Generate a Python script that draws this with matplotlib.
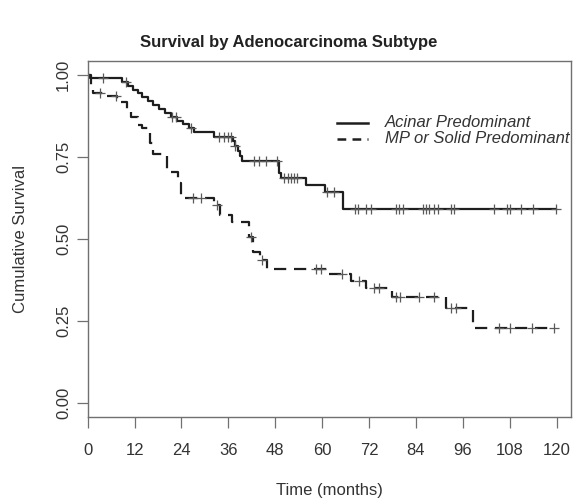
import matplotlib
matplotlib.use("Agg")
import matplotlib.pyplot as plt
import numpy as np

plt.rcParams["font.family"] = ["Liberation Sans", "DejaVu Sans"]

# Acinar predominant: event times (months) and survival after each drop
acinar_t = [0.5, 8.8, 10.2, 11.5, 12.8, 14.0, 15.5, 16.8, 18.2, 19.8, 21.2, 22.8,
            24.5, 26.0, 27.2, 32.4, 37.2, 37.8, 38.4, 38.9, 39.5, 49.0, 49.6,
            56.0, 60.8, 65.4]
acinar_s = [0.990, 0.978, 0.966, 0.954, 0.943, 0.931, 0.919, 0.907, 0.896, 0.884,
            0.872, 0.860, 0.849, 0.837, 0.825, 0.812, 0.797, 0.782, 0.767, 0.752,
            0.738, 0.700, 0.686, 0.665, 0.643, 0.591]
acinar_cens = [3.8, 9.8, 21.5, 22.7, 26.5, 33.7, 34.9, 35.8, 36.6, 37.8, 42.6,
               43.9, 45.7, 48.5, 50.3, 51.3, 52.0, 52.8, 53.6, 61.3, 63.1, 68.4,
               69.3, 71.3, 72.4, 78.8, 79.7, 80.7, 85.9, 86.5, 87.3, 88.6, 89.7,
               92.9, 93.7, 103.9, 107.3, 108.2, 111.0, 114.1, 119.9]

# MP or solid predominant
mp_t = [0.8, 1.3, 4.6, 7.6, 10.0, 11.2, 13.0, 13.8, 15.9, 16.8, 20.4, 23.0, 24.0,
        32.4, 33.8, 37.0, 41.4, 42.3, 44.0, 45.8, 61.8, 67.4, 71.2, 78.0, 91.6,
        98.6]
mp_s = [0.957, 0.944, 0.934, 0.916, 0.893, 0.870, 0.848, 0.838, 0.793, 0.758,
        0.704, 0.670, 0.625, 0.604, 0.573, 0.552, 0.506, 0.460, 0.436, 0.408,
        0.393, 0.372, 0.351, 0.323, 0.290, 0.229]
mp_cens = [3.1, 7.3, 27.0, 29.1, 33.0, 41.9, 44.7, 58.5, 59.7, 65.1, 69.4, 73.3,
           74.5, 78.9, 79.9, 84.8, 88.6, 92.9, 94.2, 105.2, 108.2, 113.6, 119.4]

x_ticks = [0, 12, 24, 36, 48, 60, 72, 84, 96, 108, 120]
y_ticks = [0.00, 0.25, 0.50, 0.75, 1.00]
labels = ["Acinar Predominant", "MP or Solid Predominant"]

LINE = "#1e1e1e"
AXC = "#707070"
TXT = "#333333"


def km_steps(t, s, t_end):
    x = np.r_[0.0, t, t_end]
    y = np.r_[1.0, s, s[-1]]
    return x, y


def draw_curve(ax, t, s, cens, **kw):
    x, y = km_steps(t, s, max(cens))
    ax.step(x, y, where="post", color=LINE, lw=1.6, **kw)
    c = np.asarray(cens)
    cy = y[np.searchsorted(x, c, side="right") - 1]
    ax.plot(c, cy, ls="none", marker="+", ms=7.5, mew=0.9, color="#5a5a5a")


fig = plt.figure(figsize=(5.77, 4.99), dpi=100)
ax = fig.add_axes([0.152, 0.1643, 0.8376, 0.7135])

draw_curve(ax, acinar_t, acinar_s, acinar_cens, ls="-")
draw_curve(ax, mp_t, mp_s, mp_cens, ls=(0, (5.5, 3.5)))

ax.set_xlim(0, 123.7)
ax.set_ylim(-0.042, 1.042)
ax.set_xticks(x_ticks)
ax.set_yticks(y_ticks)
ax.set_yticklabels([f"{v:.2f}" for v in y_ticks], rotation=90, va="center")
ax.tick_params(axis="both", direction="out", length=8, width=0.9, color=AXC,
               labelcolor=TXT, labelsize=12)
ax.tick_params(axis="x", pad=11)
ax.tick_params(axis="y", pad=4)
for sp in ax.spines.values():
    sp.set_color(AXC)
    sp.set_linewidth(1.0)

ax.set_xlabel("Time (months)", fontsize=12, color=TXT, labelpad=18)
ax.set_ylabel("Cumulative Survival", fontsize=12, color=TXT, labelpad=20)
fig.suptitle("Survival by Adenocarcinoma Subtype", x=0.5, y=0.93,
             fontsize=12, fontweight="bold", color="#222222")

# legend
for i, (lab, ls) in enumerate(zip(labels, ["-", (0, (3.5, 2.5))])):
    yy = 0.826 - i * 0.045
    ax.plot([0.516, 0.58], [yy, yy], transform=ax.transAxes, color=LINE,
            lw=1.8, ls=ls)
    ax.text(0.615, yy, lab, transform=ax.transAxes, fontsize=12,
            style="italic", color=TXT, va="center", ha="left")

fig.savefig("out.png", dpi=100, facecolor="white")
